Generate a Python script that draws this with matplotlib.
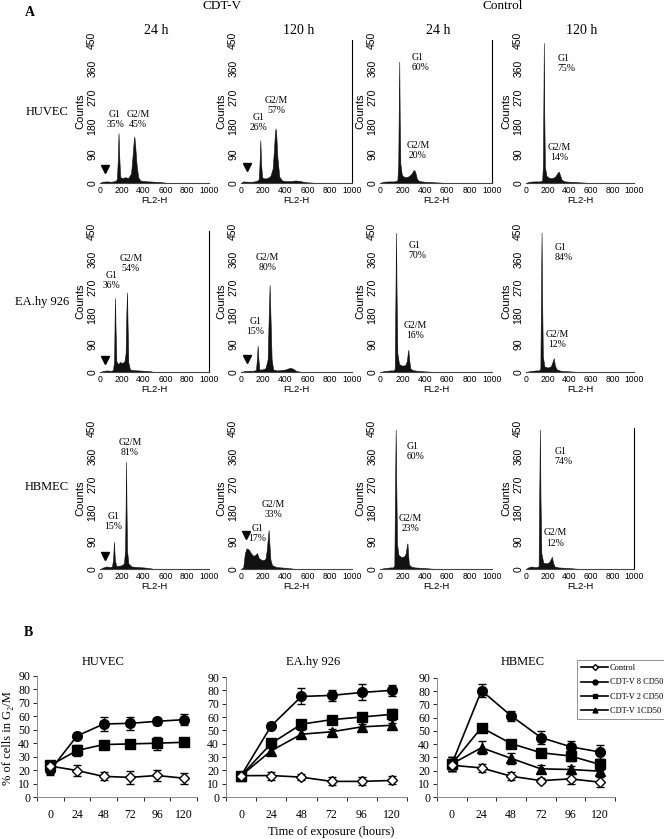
import numpy as np
import matplotlib.pyplot as plt
from matplotlib.lines import Line2D

# ---------------- data: panel A (flow cytometry histograms, FL2-H vs counts) ----------------
huvec_cdt24_x = [0, 20, 60, 100, 140, 155, 163, 170, 177, 185, 200, 230, 260, 285, 300, 310, 315, 322, 335, 350, 370, 400, 450, 500, 550, 600, 700, 1000]
huvec_cdt24_y = [0, 4, 5, 4, 6, 12, 70, 157, 80, 20, 15, 18, 16, 30, 90, 135, 146, 120, 60, 18, 8, 6, 5, 4, 3, 1, 0, 0]
huvec_cdt120_x = [0, 20, 60, 100, 140, 160, 167, 174, 181, 190, 210, 240, 265, 285, 298, 306, 312, 318, 328, 345, 370, 400, 450, 490, 520, 560, 600, 700, 1000]
huvec_cdt120_y = [0, 5, 4, 4, 6, 12, 60, 135, 60, 18, 14, 16, 22, 45, 110, 160, 172, 150, 80, 20, 8, 6, 6, 8, 7, 4, 2, 0, 0]
huvec_ctl24_x = [0, 30, 80, 130, 155, 163, 168, 172, 176, 182, 195, 220, 250, 280, 295, 306, 318, 330, 350, 400, 500, 600, 1000]
huvec_ctl24_y = [0, 4, 5, 5, 8, 60, 250, 382, 200, 60, 25, 18, 20, 28, 38, 41, 30, 12, 6, 4, 2, 0, 0]
huvec_ctl120_x = [0, 30, 80, 130, 150, 157, 162, 165, 169, 175, 190, 220, 250, 275, 292, 303, 315, 330, 360, 450, 600, 1000]
huvec_ctl120_y = [0, 4, 5, 5, 8, 60, 300, 441, 220, 50, 22, 15, 16, 22, 32, 36, 25, 10, 5, 3, 0, 0]

ea_cdt24_x = [0, 30, 60, 100, 120, 130, 134, 138, 142, 150, 165, 185, 205, 225, 235, 242, 248, 253, 260, 275, 300, 350, 400, 450, 500, 1000]
ea_cdt24_y = [0, 3, 5, 4, 6, 40, 170, 236, 150, 35, 25, 32, 28, 35, 60, 190, 254, 150, 30, 8, 6, 5, 4, 3, 0, 0]
ea_cdt120_x = [0, 30, 70, 110, 135, 143, 150, 157, 165, 190, 220, 240, 250, 258, 266, 276, 290, 320, 360, 400, 430, 450, 470, 500, 550, 1000]
ea_cdt120_y = [0, 3, 4, 4, 6, 40, 84, 40, 8, 8, 12, 40, 180, 278, 170, 40, 8, 5, 6, 8, 12, 13, 10, 3, 0, 0]
ea_ctl24_x = [0, 40, 90, 120, 132, 138, 143, 148, 155, 170, 200, 225, 240, 248, 253, 260, 270, 290, 330, 400, 500, 1000]
ea_ctl24_y = [0, 3, 5, 5, 10, 250, 444, 250, 60, 25, 20, 22, 35, 60, 71, 40, 12, 6, 4, 2, 0, 0]
ea_ctl120_x = [0, 40, 90, 120, 133, 139, 144, 149, 156, 170, 200, 230, 245, 257, 268, 285, 320, 400, 500, 1000]
ea_ctl120_y = [0, 3, 5, 5, 10, 250, 445, 240, 50, 18, 14, 18, 32, 44, 20, 8, 4, 2, 0, 0]

hb_cdt24_x = [0, 30, 60, 90, 110, 120, 128, 136, 148, 170, 200, 220, 230, 235, 239, 243, 248, 260, 290, 350, 400, 450, 500, 1000]
hb_cdt24_y = [0, 5, 8, 6, 8, 30, 87, 30, 10, 10, 12, 18, 60, 200, 342, 200, 60, 18, 8, 6, 5, 3, 0, 0]
hb_cdt120_x = [0, 20, 35, 50, 70, 90, 110, 130, 144, 160, 180, 200, 220, 232, 242, 249, 256, 265, 280, 320, 400, 500, 1000]
hb_cdt120_y = [0, 5, 50, 66, 62, 50, 42, 45, 51, 35, 30, 28, 32, 60, 100, 124, 80, 30, 12, 6, 4, 0, 0]
hb_ctl24_x = [0, 40, 90, 115, 128, 134, 140, 145, 152, 165, 190, 215, 230, 240, 245, 250, 258, 275, 310, 400, 500, 1000]
hb_ctl24_y = [0, 3, 5, 5, 10, 250, 445, 280, 80, 45, 38, 40, 50, 75, 82, 50, 15, 8, 5, 3, 0, 0]
hb_ctl120_x = [0, 20, 50, 80, 105, 117, 123, 129, 134, 142, 160, 190, 215, 230, 240, 250, 265, 300, 400, 500, 1000]
hb_ctl120_y = [0, 5, 8, 6, 6, 10, 250, 445, 230, 50, 20, 18, 22, 32, 39, 20, 8, 5, 3, 0, 0]

cell_lines = ['HUVEC', 'EA.hy 926', 'HBMEC']
col_titles = ['24 h', '120 h', '24 h', '120 h']
g1_pct = [['35%', '26%', '60%', '75%'],
          ['36%', '15%', '70%', '84%'],
          ['15%', '17%', '60%', '74%']]
g2_pct = [['45%', '57%', '20%', '14%'],
          ['54%', '80%', '16%', '12%'],
          ['81%', '33%', '23%', '12%']]

# ---------------- data: panel B (% of cells in G2/M) ----------------
hours = [0, 24, 48, 72, 96, 120]
huvec_ctrl = [23, 19.7, 15.3, 14.6, 16, 14]
huvec_ctrl_err = [3, 4, 3, 5, 4, 4]
huvec_cd8 = [20, 45.4, 54.3, 54.8, 56.3, 57.5]
huvec_cd8_err = [4, 2, 5.5, 5, 2.5, 4]
huvec_cd2 = [23.5, 34.6, 39, 39.5, 40, 40.7]
huvec_cd2_err = [3, 4, 2, 2.5, 5, 3]

ea_ctrl = [16, 16.1, 14.9, 11.7, 11.7, 12.4]
ea_ctrl_err = [2, 3, 2.5, 3, 3, 3]
ea_cd8 = [16, 53.4, 75.4, 76.2, 78.4, 80]
ea_cd8_err = [2, 2, 6, 4, 6, 4]
ea_cd2 = [16, 40.2, 54.6, 58, 60, 62]
ea_cd2_err = [2, 3, 3, 3, 3, 4]
ea_cd1 = [16, 34.7, 47.1, 48.9, 52.6, 53.8]
ea_cd1_err = [2, 3, 3, 2, 2, 2]

hb_ctrl = [24, 22, 15.7, 12.4, 13.7, 11.2]
hb_ctrl_err = [4, 3, 3, 2, 4, 4]
hb_cd8 = [25, 80.5, 61.4, 45, 38, 34]
hb_cd8_err = [5, 5, 4, 5, 4, 5]
hb_cd2 = [25, 52.5, 40.4, 33.5, 31, 24.6]
hb_cd2_err = [5, 3, 2, 2, 3.5, 4]
hb_cd1 = [25, 37.3, 29.2, 21.3, 20.8, 19.5]
hb_cd1_err = [5, 5, 4, 3, 3, 3]

legend_labels = ['Control', 'CDT-V 8 CD50', 'CDT-V 2 CD50', 'CDT-V 1CD50']

# ---------------- figure ----------------
W, H = 664, 839
fig = plt.figure(figsize=(W / 100, H / 100), dpi=100)
SERIF = ['Liberation Serif', 'DejaVu Serif']
SANS = ['Liberation Sans', 'DejaVu Sans']


def px_axes(x0, y0, x1, y1):
    # axes from pixel box (top-left origin)
    return fig.add_axes([x0 / W, 1 - y1 / H, (x1 - x0) / W, (y1 - y0) / H])


def fig_text(x, y, s, **kw):
    fig.text(x / W, 1 - y / H, s, **kw)


hist_data = [
    [(huvec_cdt24_x, huvec_cdt24_y), (huvec_cdt120_x, huvec_cdt120_y),
     (huvec_ctl24_x, huvec_ctl24_y), (huvec_ctl120_x, huvec_ctl120_y)],
    [(ea_cdt24_x, ea_cdt24_y), (ea_cdt120_x, ea_cdt120_y),
     (ea_ctl24_x, ea_ctl24_y), (ea_ctl120_x, ea_ctl120_y)],
    [(hb_cdt24_x, hb_cdt24_y), (hb_cdt120_x, hb_cdt120_y),
     (hb_ctl24_x, hb_ctl24_y), (hb_ctl120_x, hb_ctl120_y)],
]

col_px = [(100, 209), (241, 352), (380, 492), (526, 634)]
row_px = [(40, 183), (231, 372), (428, 569)]
row_label_y = [112, 302, 487]

# label positions (data coords) for the G1 / G2/M annotations
g1_pos = [[(138, 201), (162, 189), (283, 380), (290, 376)],
          [(107, 292), (129, 145), (253, 387), (266, 380)],
          [(122, 153), (150, 112), (240, 376), (264, 360)]]
g2_pos = [[(349, 201), (322, 244), (339, 101), (312, 96)],
          [(284, 345), (240, 350), (313, 132), (291, 103)],
          [(275, 388), (288, 189), (274, 144), (272, 99)]]
g1_ha = [['center', 'center', 'left', 'left'],
         ['center', 'center', 'left', 'left'],
         ['center', 'center', 'left', 'left']]
# gate arrowheads in CDT-V panels
arrow_pos = [[(46, 44), (54, 50)], [(50, 38), (55, 41)], [(45, 41), (45, 108)]]
right_spine = {(0, 1), (0, 2), (1, 0), (2, 3)}

for r in range(3):
    for c in range(4):
        x0, x1 = col_px[c]
        y0, y1 = row_px[r]
        ax = px_axes(x0, y0, x1, y1)
        hx, hy = hist_data[r][c]
        ax.fill_between(hx, hy, 0, color='#111111', lw=0.4, edgecolor='#111111')
        ax.set_xlim(0, 1000)
        ax.set_ylim(0, 450)
        for s in ['left', 'top']:
            ax.spines[s].set_visible(False)
        ax.spines['right'].set_visible((r, c) in right_spine)
        ax.spines['right'].set_linewidth(0.8)
        ax.spines['bottom'].set_linewidth(0.8)
        ax.spines['bottom'].set_color('#444444')
        ax.set_xticks([0, 200, 400, 600, 800, 1000])
        ax.set_xticklabels(['0', '200', '400', '600', '800', '1000'],
                           family=SANS, fontsize=6.2)
        ax.set_yticks([0, 90, 180, 270, 360, 450])
        ax.set_yticklabels(['0', '90', '180', '270', '360', '450'],
                           rotation=90, va='center', family=SANS, fontsize=7.5)
        ax.tick_params(length=0, pad=2)
        ax.set_xlabel('FL2-H', family=SANS, fontsize=6.8, labelpad=1)
        ax.set_ylabel('Counts', family=SANS, fontsize=8, labelpad=1)
        gx, gy = g1_pos[r][c]
        ax.text(gx, gy, 'G1\n' + g1_pct[r][c], ha=g1_ha[r][c], va='center',
                family=SERIF, fontsize=7, linespacing=1.15)
        gx, gy = g2_pos[r][c]
        ax.text(gx, gy, 'G2/M\n' + g2_pct[r][c], ha='center', va='center',
                family=SERIF, fontsize=7, linespacing=1.15)
        if c < 2:
            axx, axy = arrow_pos[r][c]
            ax.plot([axx], [axy], marker='v', color='black', ms=6, clip_on=False)
        if r == 0:
            fig_text((x0 + x1) / 2 + 2, 30, col_titles[c], ha='center', va='center',
                     family=SERIF, fontsize=10)
    fig_text(69, row_label_y[r], cell_lines[r], ha='right', va='center',
             family=SERIF, fontsize=9)

fig_text(30, 12, 'A', ha='center', va='center', family=SERIF, fontsize=10, weight='bold')
fig_text(222, 6, 'CDT-V', ha='center', va='center', family=SERIF, fontsize=9.5)
fig_text(503, 6, 'Control', ha='center', va='center', family=SERIF, fontsize=9.5)
fig_text(28, 632, 'B', ha='center', va='center', family=SERIF, fontsize=10, weight='bold')

# ---------------- panel B ----------------
line_sets = [
    [(huvec_cd8, huvec_cd8_err, 'o'), (huvec_cd2, huvec_cd2_err, 's'),
     (huvec_ctrl, huvec_ctrl_err, 'D')],
    [(ea_cd8, ea_cd8_err, 'o'), (ea_cd2, ea_cd2_err, 's'), (ea_cd1, ea_cd1_err, '^'),
     (ea_ctrl, ea_ctrl_err, 'D')],
    [(hb_cd8, hb_cd8_err, 'o'), (hb_cd2, hb_cd2_err, 's'), (hb_cd1, hb_cd1_err, '^'),
     (hb_ctrl, hb_ctrl_err, 'D')],
]
b_px = [(37, 676, 197, 797), (226, 677, 407, 797), (437, 678, 615, 797)]
b_titles = ['HUVEC', 'EA.hy 926', 'HBMEC']
msize = {'o': 7, 's': 6.5, '^': 6.5, 'D': 5.5}

for i in range(3):
    ax = px_axes(*b_px[i])
    for vals, errs, m in line_sets[i]:
        face = 'white' if m == 'D' else 'black'
        ax.errorbar(hours, vals, yerr=errs, color='black', marker=m, ms=msize[m],
                    mfc=face, mec='black', mew=1.0, lw=1.2, elinewidth=1.0,
                    capsize=3, capthick=1.0, clip_on=False, zorder=3)
    ax.set_xlim(-12, 132)
    ax.set_ylim(0, 90)
    ax.set_yticks(range(0, 91, 10))
    ax.set_xticks(hours)
    ax.set_xticks([-12, 12, 36, 60, 84, 108, 132], minor=True)
    ax.tick_params(axis='x', which='major', length=0, pad=9)
    ax.tick_params(axis='x', which='minor', length=3, direction='out', width=0.6)
    ax.tick_params(axis='y', length=3, width=0.6, pad=2)
    for lab in ax.get_xticklabels() + ax.get_yticklabels():
        lab.set_family(SERIF)
        lab.set_fontsize(8.5)
    for s in ['top', 'right']:
        ax.spines[s].set_visible(False)
    for s in ['left', 'bottom']:
        ax.spines[s].set_color('#888888')
        ax.spines[s].set_linewidth(0.7)
    x0, y0, x1, y1 = b_px[i]
    fig_text((x0 + x1) / 2 - 3 if i else 103, 662, b_titles[i], ha='center', va='center',
             family=SERIF, fontsize=9)

fig_text(8, 738, '% of cells in G\u2082/M', rotation=90, ha='center', va='center',
         family=SERIF, fontsize=9)
fig_text(331, 832, 'Time of exposure (hours)', ha='center', va='center',
         family=SERIF, fontsize=9)

handles = [
    Line2D([], [], color='black', marker='D', ms=3, mfc='white', lw=1.2),
    Line2D([], [], color='black', marker='o', ms=3.5, lw=1.2),
    Line2D([], [], color='black', marker='s', ms=3.5, lw=1.2),
    Line2D([], [], color='black', marker='^', ms=3.5, lw=1.2),
]
leg = fig.legend(handles, legend_labels, loc='upper left',
                 bbox_to_anchor=(577 / W, 1 - 660 / H), frameon=True, fancybox=False,
                 edgecolor='#777777', prop={'family': SERIF, 'size': 6},
                 handlelength=3.2, handletextpad=0.2, labelspacing=0.75,
                 borderpad=0.5, borderaxespad=0)
leg.get_frame().set_linewidth(0.7)

fig.savefig('out.png', dpi=100)
